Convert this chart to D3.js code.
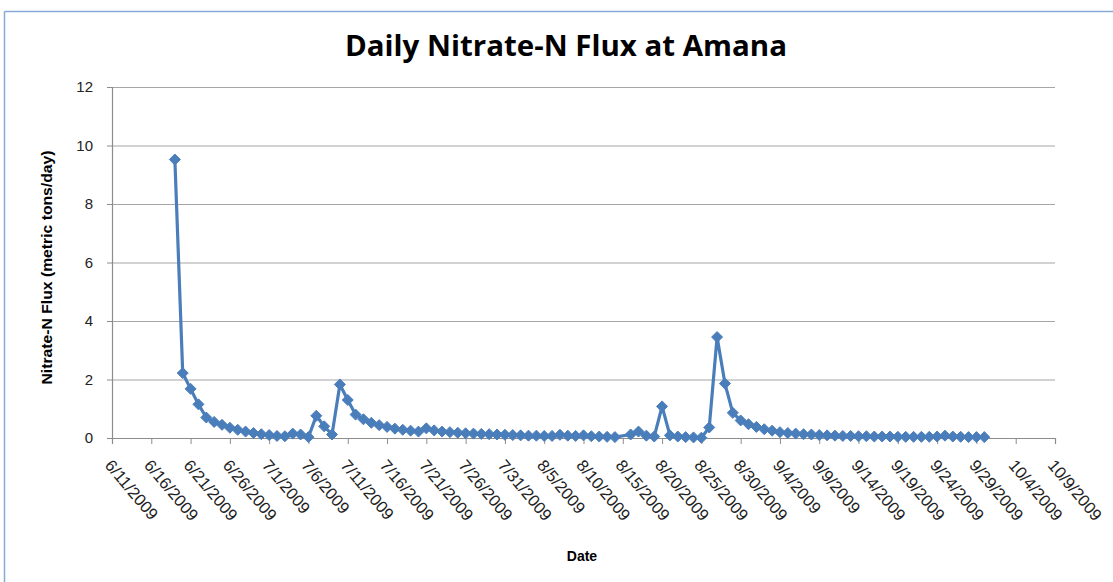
<!DOCTYPE html>
<html>
<head>
<meta charset="utf-8">
<script src="https://cdn.jsdelivr.net/npm/d3@7"></script>
<style>
  body { margin: 0; background: #fff; }
  text { font-family: "Liberation Sans", Arial, sans-serif; }
</style>
</head>
<body>
<script>
// daily flux values (8/15 is missing in the source)
var dates = [
  "6/19/2009","6/20/2009","6/21/2009","6/22/2009","6/23/2009","6/24/2009","6/25/2009","6/26/2009",
  "6/27/2009","6/28/2009","6/29/2009","6/30/2009",
  "7/1/2009","7/2/2009","7/3/2009","7/4/2009","7/5/2009","7/6/2009","7/7/2009","7/8/2009","7/9/2009",
  "7/10/2009","7/11/2009","7/12/2009","7/13/2009","7/14/2009","7/15/2009","7/16/2009","7/17/2009",
  "7/18/2009","7/19/2009","7/20/2009","7/21/2009","7/22/2009","7/23/2009","7/24/2009","7/25/2009",
  "7/26/2009","7/27/2009","7/28/2009","7/29/2009","7/30/2009","7/31/2009",
  "8/1/2009","8/2/2009","8/3/2009","8/4/2009","8/5/2009","8/6/2009","8/7/2009","8/8/2009","8/9/2009",
  "8/10/2009","8/11/2009","8/12/2009","8/13/2009","8/14/2009","8/16/2009","8/17/2009","8/18/2009",
  "8/19/2009","8/20/2009","8/21/2009","8/22/2009","8/23/2009","8/24/2009","8/25/2009","8/26/2009",
  "8/27/2009","8/28/2009","8/29/2009","8/30/2009","8/31/2009",
  "9/1/2009","9/2/2009","9/3/2009","9/4/2009","9/5/2009","9/6/2009","9/7/2009","9/8/2009","9/9/2009",
  "9/10/2009","9/11/2009","9/12/2009","9/13/2009","9/14/2009","9/15/2009","9/16/2009","9/17/2009",
  "9/18/2009","9/19/2009","9/20/2009","9/21/2009","9/22/2009","9/23/2009","9/24/2009","9/25/2009",
  "9/26/2009","9/27/2009","9/28/2009","9/29/2009","9/30/2009"
];
var flux = [
  9.52, 2.22, 1.68, 1.15, 0.70, 0.55, 0.45, 0.35,
  0.28, 0.22, 0.17, 0.13,
  0.10, 0.07, 0.06, 0.15, 0.12, 0.03, 0.76, 0.40, 0.12,
  1.83, 1.30, 0.80, 0.64, 0.52, 0.44, 0.38, 0.32,
  0.28, 0.25, 0.22, 0.33, 0.26, 0.22, 0.20, 0.18,
  0.16, 0.15, 0.14, 0.13, 0.12, 0.11,
  0.10, 0.09, 0.08, 0.08, 0.07, 0.07, 0.11, 0.08, 0.07,
  0.09, 0.06, 0.05, 0.04, 0.03, 0.12, 0.22, 0.08,
  0.05, 1.08, 0.09, 0.05, 0.03, 0.02, 0.01, 0.36,
  3.45, 1.86, 0.86, 0.60, 0.47,
  0.38, 0.30, 0.25, 0.20, 0.17, 0.15, 0.13, 0.12, 0.10,
  0.09, 0.08, 0.07, 0.07, 0.06, 0.06, 0.05, 0.05,
  0.05, 0.04, 0.04, 0.04, 0.04, 0.04, 0.05, 0.08,
  0.05, 0.04, 0.03, 0.03, 0.03
];
var xTicks = [
  "6/11/2009","6/16/2009","6/21/2009","6/26/2009","7/1/2009","7/6/2009","7/11/2009","7/16/2009",
  "7/21/2009","7/26/2009","7/31/2009","8/5/2009","8/10/2009","8/15/2009","8/20/2009","8/25/2009",
  "8/30/2009","9/4/2009","9/9/2009","9/14/2009","9/19/2009","9/24/2009","9/29/2009","10/4/2009","10/9/2009"
];
var yTicks = [0, 2, 4, 6, 8, 10, 12];

var W = 1113, H = 582;
var margin = {top: 87, right: 58, bottom: 144, left: 112},
    width = W - margin.left - margin.right,
    height = H - margin.top - margin.bottom;

var parse = d3.timeParse("%m/%d/%Y");
var data = dates.map(function(d, i) { return {date: parse(d), value: flux[i]}; });
var tickDates = xTicks.map(parse);

var svg = d3.select("body").append("svg")
    .attr("width", W)
    .attr("height", H);

// chart frame
svg.append("line").attr("x1", 4.5).attr("x2", W).attr("y1", 11.5).attr("y2", 11.5)
    .attr("stroke", "#86a9d6").attr("stroke-width", 1.5);
svg.append("line").attr("x1", 4.5).attr("x2", 4.5).attr("y1", 11.5).attr("y2", H)
    .attr("stroke", "#86a9d6").attr("stroke-width", 1.5);

// title
svg.append("text")
    .attr("x", 566).attr("y", 56)
    .attr("text-anchor", "middle")
    .attr("textLength", 442)
    .attr("lengthAdjust", "spacingAndGlyphs")
    .style("font-family", "'Open Sans', sans-serif")
    .style("font-weight", "bold")
    .style("font-size", "28px")
    .attr("fill", "#000")
    .text("Daily Nitrate-N Flux at Amana");

var g = svg.append("g")
    .attr("transform", "translate(" + margin.left + "," + margin.top + ")");

var x = d3.scaleTime().domain([tickDates[0], tickDates[tickDates.length - 1]]).range([0, width]);
var y = d3.scaleLinear().domain([0, 12]).range([height, 0]);

// horizontal gridlines
g.append("g")
    .attr("class", "grid")
    .call(d3.axisLeft(y).tickValues(yTicks).tickSize(-width).tickFormat(""))
    .call(function(s) {
      s.select(".domain").remove();
      s.selectAll("line").attr("stroke", "#a6a6a6").attr("stroke-width", 1.2);
    });

// y axis
g.append("g")
    .call(d3.axisLeft(y).tickValues(yTicks).tickSize(5).tickPadding(14))
    .call(function(s) {
      s.select(".domain").attr("stroke", "#8c8c8c").attr("stroke-width", 1.2);
      s.selectAll("line").attr("stroke", "#8c8c8c");
      s.selectAll("text").style("font-size", "15px").attr("fill", "#222");
    });

// x axis
g.append("g")
    .attr("transform", "translate(0," + height + ")")
    .call(d3.axisBottom(x).tickValues(tickDates).tickSize(6)
      .tickFormat(function(d) { return d3.timeFormat("%-m/%-d/%Y")(d); }))
    .call(function(s) {
      s.select(".domain").attr("stroke", "#8c8c8c").attr("stroke-width", 1.2);
      s.selectAll("line").attr("stroke", "#8c8c8c");
      s.selectAll("text")
        .attr("text-anchor", "start")
        .attr("dy", "0.35em")
        .attr("y", 0)
        .attr("transform", "translate(-4,24) rotate(50)")
        .style("font-size", "16.5px")
        .attr("fill", "#222");
    });

// axis titles
svg.append("text")
    .attr("transform", "translate(52," + (margin.top + height / 2 + 5) + ") rotate(-90)")
    .attr("text-anchor", "middle")
    .attr("textLength", 234)
    .attr("lengthAdjust", "spacingAndGlyphs")
    .style("font-weight", "bold")
    .style("font-size", "14px")
    .attr("fill", "#000")
    .text("Nitrate-N Flux (metric tons/day)");

svg.append("text")
    .attr("x", 582).attr("y", 561)
    .attr("text-anchor", "middle")
    .style("font-weight", "bold")
    .style("font-size", "14px")
    .attr("fill", "#000")
    .text("Date");

// series
var line = d3.line()
    .x(function(d) { return x(d.date); })
    .y(function(d) { return y(d.value); });

g.append("path")
    .datum(data)
    .attr("fill", "none")
    .attr("stroke", "#4a7ebb")
    .attr("stroke-width", 3.2)
    .attr("stroke-linejoin", "round")
    .attr("d", line);

g.selectAll(".pt")
    .data(data)
  .enter().append("path")
    .attr("class", "pt")
    .attr("transform", function(d) { return "translate(" + x(d.date) + "," + y(d.value) + ")"; })
    .attr("d", "M0,-5.5L5.5,0L0,5.5L-5.5,0Z")
    .attr("fill", "#4a7ebb")
    .attr("stroke", "#4a7ebb")
    .attr("stroke-width", 1);
</script>
</body>
</html>
